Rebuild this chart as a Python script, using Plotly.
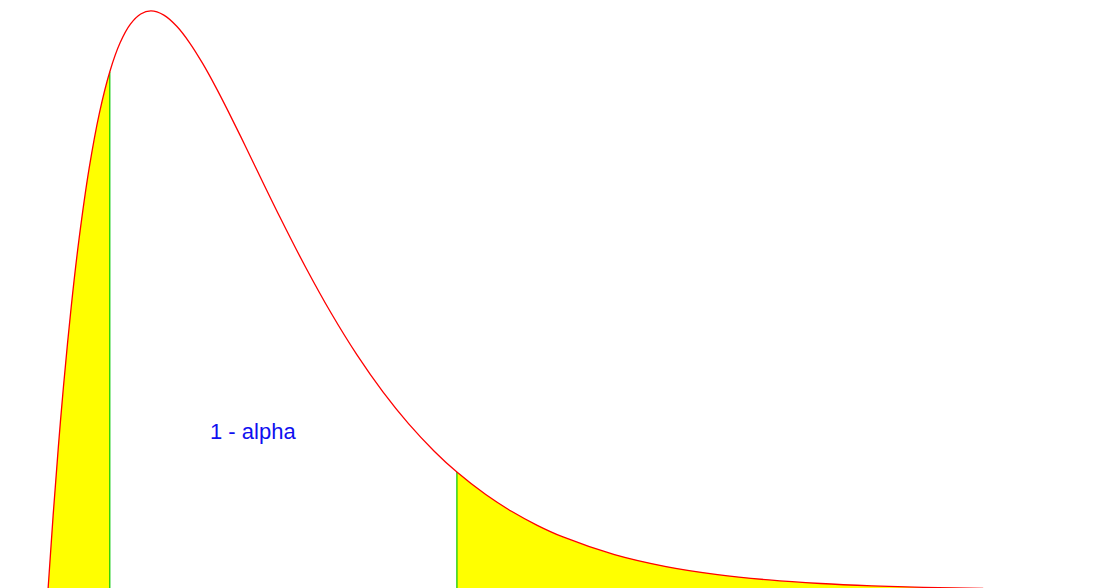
import plotly.graph_objects as go

# curve readings (distribution units, density)
curve_x = [0, 0.1, 0.2, 0.3, 0.45, 0.6, 0.8, 1.0, 1.2, 1.4, 1.6, 1.8, 2.0,
           2.25, 2.5, 2.75, 3.0, 3.25, 3.5, 3.75, 4.0, 4.5, 5.0, 5.5, 6.0, 6.5,
           7.0, 7.5, 7.94, 8.5, 9.0, 9.5, 10, 11, 12, 13, 14, 15, 16, 17, 18.16]
curve_y = [0, 0.02378, 0.04524, 0.06455, 0.08983, 0.11112, 0.13406, 0.15163, 0.16464,
           0.17381, 0.17973, 0.18296, 0.18394, 0.18262, 0.17907, 0.17383, 0.16735,
           0.15999, 0.15205, 0.14377, 0.13534, 0.11857, 0.10261, 0.08790, 0.07468,
           0.06301, 0.05285, 0.04410, 0.03746, 0.03031, 0.02500, 0.02055, 0.01685,
           0.01124, 0.00744, 0.00489, 0.00319, 0.00207, 0.00134, 0.00086, 0.00052]

LEFT_CRIT = 1.2
RIGHT_CRIT = 7.94
LABEL = '1 - alpha'

left_x = [x for x in curve_x if x <= LEFT_CRIT]
left_y = [y for x, y in zip(curve_x, curve_y) if x <= LEFT_CRIT]
right_x = [x for x in curve_x if x >= RIGHT_CRIT]
right_y = [y for x, y in zip(curve_x, curve_y) if x >= RIGHT_CRIT]

fig = go.Figure()

#yellow tails
fig.add_trace(go.Scatter(x=left_x, y=left_y, mode='lines', fill='tozeroy',
                         fillcolor='#ffff00', line=dict(width=0, shape='spline', color='#ffff00')))
fig.add_trace(go.Scatter(x=right_x, y=right_y, mode='lines', fill='tozeroy',
                         fillcolor='#ffff00', line=dict(width=0, shape='spline', color='#ffff00')))

#green critical lines
fig.add_trace(go.Scatter(x=[LEFT_CRIT, LEFT_CRIT], y=[0, left_y[-1]], mode='lines',
                         line=dict(color='#00c800', width=1.2)))
fig.add_trace(go.Scatter(x=[RIGHT_CRIT, RIGHT_CRIT], y=[0, right_y[0]], mode='lines',
                         line=dict(color='#00c800', width=1.2)))

#density curve
fig.add_trace(go.Scatter(x=curve_x, y=curve_y, mode='lines',
                         line=dict(color='#ff0000', width=1.3, shape='spline')))

fig.add_annotation(x=3.98, y=0.0503, text=LABEL, showarrow=False,
                   font=dict(family='Liberation Sans, Arial', size=22, color='#1010f0'))

fig.update_xaxes(visible=False, range=[-0.932, 20.447])
fig.update_yaxes(visible=False, range=[0.000635, 0.187421])

fig.update_layout(
    width=1101,
    height=588,
    margin=dict(l=0, r=0, t=0, b=0),
    showlegend=False,
    plot_bgcolor='#ffffff',
    paper_bgcolor='#ffffff',
)

fig.write_html("out.html", config={'displayModeBar': False},
               post_script="document.body.style.margin='0';")
